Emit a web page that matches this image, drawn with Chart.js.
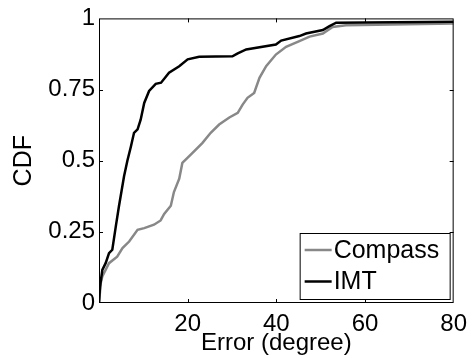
<!DOCTYPE html>
<html>
<head>
<meta charset="utf-8">
<script src="https://cdn.jsdelivr.net/npm/chart.js@4.4.1/dist/chart.umd.min.js"></script>
<style>
  html, body { margin: 0; padding: 0; background: #fff; }
  #wrap { width: 474px; height: 358px; }
</style>
</head>
<body>
<div id="wrap"><canvas id="cdfChart" width="474" height="358"></canvas></div>
<script>
// CDF of heading error
const imtX = [0, 0.23, 0.75, 1.5, 2.26, 3.0, 3.8, 4.5, 5.65, 6.4, 7.2, 7.9, 8.7, 9.4, 10.2, 11.3, 12.8, 14.0, 15.8, 18.1, 20.0, 22.6, 30.1, 31.3, 33.2, 39.9, 41.1, 45.2, 46.7, 50.5, 52.0, 53.5, 80];
const imtY = [0, 0.057, 0.116, 0.14, 0.175, 0.187, 0.27, 0.34, 0.445, 0.5, 0.55, 0.598, 0.61, 0.644, 0.703, 0.745, 0.77, 0.774, 0.809, 0.832, 0.856, 0.865, 0.867, 0.877, 0.891, 0.908, 0.922, 0.938, 0.947, 0.959, 0.973, 0.985, 0.988];

const compassX = [0, 0.4, 0.75, 2.26, 4.1, 5.3, 6.8, 8.7, 10.2, 12.4, 13.9, 14.7, 16.2, 16.9, 18.1, 18.8, 20.7, 23.3, 25.2, 27.1, 29.4, 31.3, 32.4, 33.5, 35.0, 36.2, 37.7, 39.9, 42.2, 45.2, 47.5, 50.5, 52.7, 55.7, 80];
const compassY = [0, 0.07, 0.093, 0.14, 0.163, 0.193, 0.216, 0.257, 0.263, 0.275, 0.29, 0.313, 0.342, 0.39, 0.437, 0.492, 0.521, 0.562, 0.598, 0.627, 0.652, 0.668, 0.697, 0.721, 0.738, 0.791, 0.832, 0.873, 0.9, 0.92, 0.936, 0.947, 0.97, 0.976, 0.982];

const xTicks = [0, 20, 40, 60, 80];
const yTicks = [0, 0.25, 0.5, 0.75, 1];

const toPoints = (xs, ys) => xs.map((x, i) => ({ x: x, y: ys[i] }));

const FONT = 'Liberation Sans, Arial, Helvetica, sans-serif';

// box round the plot + inward tick marks, matlab style
const framePlugin = {
    id: 'frame',
    afterDatasetsDraw(chart) {
        const { ctx, chartArea: a, scales } = chart;
        ctx.save();
        ctx.strokeStyle = '#000';
        ctx.lineWidth = 1;
        ctx.strokeRect(a.left + 0.5, a.top + 0.5, a.right - a.left - 1, a.bottom - a.top - 1);
        const len = 4;
        ctx.beginPath();
        xTicks.slice(1, -1).forEach(v => {
            const px = Math.round(scales.x.getPixelForValue(v)) + 0.5;
            ctx.moveTo(px, a.bottom); ctx.lineTo(px, a.bottom - len);
            ctx.moveTo(px, a.top); ctx.lineTo(px, a.top + len);
        });
        yTicks.slice(1, -1).forEach(v => {
            const py = Math.round(scales.y.getPixelForValue(v)) + 0.5;
            ctx.moveTo(a.left, py); ctx.lineTo(a.left + len, py);
            ctx.moveTo(a.right, py); ctx.lineTo(a.right - len, py);
        });
        ctx.stroke();

        // legend box, bottom right inside the axes
        const w = 151, h = 67;
        const lx = a.right - 3 - w, ly = a.bottom - 3 - h;
        ctx.fillStyle = '#fff';
        ctx.fillRect(lx, ly, w, h);
        ctx.strokeRect(lx + 0.5, ly + 0.5, w - 1, h - 1);
        ctx.font = '25px ' + FONT;
        ctx.textBaseline = 'middle';
        ctx.textAlign = 'left';
        const order = [1, 0]; // Compass first, then IMT
        order.forEach((di, row) => {
            const ds = chart.data.datasets[di];
            const cy = ly + 17 + row * 31.5;
            ctx.strokeStyle = ds.borderColor;
            ctx.lineWidth = 2.5;
            ctx.beginPath();
            ctx.moveTo(lx + 5, cy); ctx.lineTo(lx + 32, cy);
            ctx.stroke();
            ctx.fillStyle = '#000';
            ctx.fillText(ds.label, lx + 34, cy + 1);
        });
        ctx.restore();
    }
};

const ctx = document.getElementById('cdfChart').getContext('2d');
new Chart(ctx, {
    type: 'line',
    data: {
        datasets: [{
            label: 'IMT',
            data: toPoints(imtX, imtY),
            borderColor: '#000000',
            borderWidth: 2.5,
            pointRadius: 0,
            tension: 0,
            fill: false,
            order: 0
        }, {
            label: 'Compass',
            data: toPoints(compassX, compassY),
            borderColor: '#888888',
            borderWidth: 2.5,
            pointRadius: 0,
            tension: 0,
            fill: false,
            order: 1
        }]
    },
    options: {
        responsive: false,
        animation: false,
        layout: { padding: { top: 18, right: 20, left: 0, bottom: 0 } },
        scales: {
            x: {
                type: 'linear',
                min: 0,
                max: 80,
                grid: { display: false, drawTicks: false },
                border: { display: false },
                afterBuildTicks: s => { s.ticks = xTicks.map(v => ({ value: v })); },
                afterFit: s => { s.height = 55; },
                ticks: {
                    padding: 7,
                    color: '#000',
                    font: { family: FONT, size: 24 },
                    maxRotation: 0,
                    callback: v => (v === 0 ? '' : String(v))
                },
                title: {
                    display: true,
                    text: 'Error (degree)',
                    color: '#000',
                    font: { family: FONT, size: 24 },
                    padding: { top: 0, bottom: 0 }
                }
            },
            y: {
                min: 0,
                max: 1,
                grid: { display: false, drawTicks: false },
                border: { display: false },
                afterBuildTicks: s => { s.ticks = yTicks.map(v => ({ value: v })); },
                afterFit: s => { s.width = 99; },
                ticks: {
                    padding: 4,
                    color: '#000',
                    font: { family: FONT, size: 24 },
                    callback: v => String(v)
                },
                title: {
                    display: true,
                    text: 'CDF',
                    color: '#000',
                    font: { family: FONT, size: 25 },
                    padding: { top: 9, bottom: 0 }
                }
            }
        },
        plugins: {
            legend: { display: false },
            tooltip: { enabled: false }
        }
    },
    plugins: [framePlugin]
});
</script>
</body>
</html>
